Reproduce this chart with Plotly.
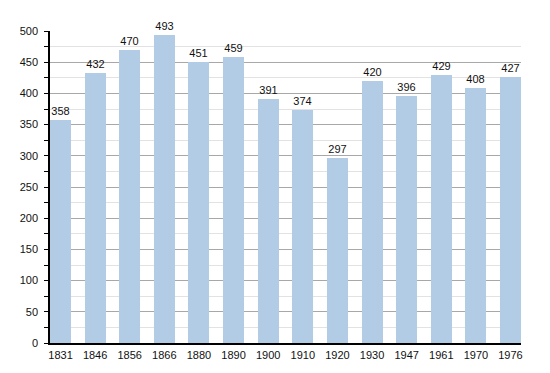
import plotly.graph_objects as go

years = ["1831", "1846", "1856", "1866", "1880", "1890", "1900", "1910", "1920",
         "1930", "1947", "1961", "1970", "1976"]
population = [358, 432, 470, 493, 451, 459, 391, 374, 297, 420, 396, 429, 408, 427]
y_ticks = [0, 50, 100, 150, 200, 250, 300, 350, 400, 450, 500]

xs = list(range(len(years)))
bw = 0.607

fig = go.Figure()
fig.add_trace(go.Bar(
    x=xs, y=population, width=bw,
    marker=dict(color="#b3cce6", line=dict(width=0)),
    text=[str(v) for v in population], textposition="outside",
    textfont=dict(family="Liberation Sans, Arial, sans-serif", size=11, color="#111"),
    cliponaxis=False,
))
fig.update_layout(
    width=550, height=373,
    margin=dict(l=42, r=37, t=23, b=38, autoexpand=False),
    plot_bgcolor="white", paper_bgcolor="white",
    showlegend=False,
    font=dict(family="Liberation Sans, Arial, sans-serif", size=11, color="#111"),
    bargap=0,
)
fig.update_xaxes(
    range=[-bw / 2, len(years) - 1 + bw / 2],
    tickmode="array", tickvals=xs, ticktext=years,
    showgrid=False, showline=True, linecolor="black", linewidth=1.5,
    ticks="", zeroline=False, automargin=False, ticklabelstandoff=1,
)
fig.update_yaxes(
    range=[0, 500], tickmode="array", tickvals=y_ticks,
    showgrid=True, gridcolor="#a8a8a8", gridwidth=1,
    showline=True, linecolor="black", linewidth=1.5,
    ticks="outside", ticklen=4, tickcolor="black", ticklabelstandoff=4,
    zeroline=False, automargin=False,
    minor=dict(dtick=25, tick0=0, showgrid=True, gridcolor="#e2e2e2",
               ticks="outside", ticklen=4, tickcolor="black"),
)
fig.write_html("out.html")
